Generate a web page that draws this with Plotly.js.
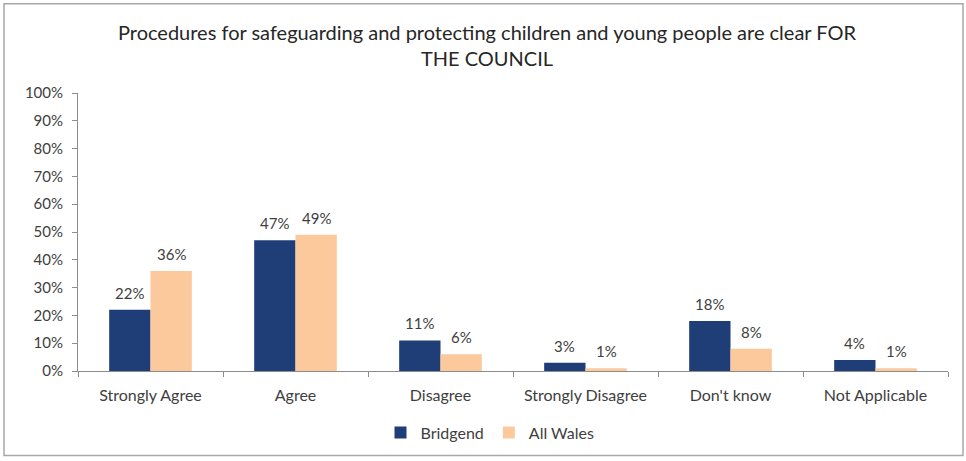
<!DOCTYPE html>
<html>
<head>
<meta charset="utf-8">
<script src="https://cdn.plot.ly/plotly-3.0.1.min.js"></script>
<style>html,body{margin:0;padding:0;background:#fff;} #chart{width:966px;height:461px;}</style>
</head>
<body>
<div id="chart"></div>
<script>
const categories = ["Strongly Agree", "Agree", "Disagree", "Strongly Disagree", "Don't know", "Not Applicable"];
const bridgend = [22, 47, 11, 3, 18, 4];
const allWales = [36, 49, 6, 1, 8, 1];
const yTickVals = [0, 10, 20, 30, 40, 50, 60, 70, 80, 90, 100];
const yTickText = yTickVals.map(v => v + "%");

const fontFam = "Lato, 'Open Sans', sans-serif";
const textCol = "#404040";

const bargap = 0.43;
const traces = [
  {type: "bar", name: "Bridgend", x: categories, y: bridgend,
   marker: {color: "#1F3D76"}, hoverinfo: "skip"},
  {type: "bar", name: "All Wales", x: categories, y: allWales,
   marker: {color: "#FBC99B"}, hoverinfo: "skip"}
];

const L = 78, R = 948, T = 93, B = 373;
const pw = R - L, ph = B - T;
function px(x){ return (x - L) / pw; }
function py(y){ return (B - y) / ph; }

// data labels centred over each bar of the group
const half = (1 - bargap) / 4;
const annotations = [];
[[bridgend, -half], [allWales, half]].forEach(([vals, off]) => {
  vals.forEach((v, i) => {
    annotations.push({x: i + off, y: v, xref: "x", yref: "y", text: v + "%", showarrow: false,
      yanchor: "bottom", yshift: 6, font: {family: fontFam, size: 15, color: textCol}});
  });
});

const layout = {
  width: 966, height: 461,
  margin: {l: L, r: 966 - R, t: T, b: 461 - B, pad: 0},
  paper_bgcolor: "#fff", plot_bgcolor: "#fff",
  font: {family: fontFam, color: textCol, size: 15},
  title: {text: "Procedures for safeguarding and protecting children and young people are clear FOR<br>THE COUNCIL",
          font: {family: fontFam, size: 20, color: "#262626"},
          x: 487 / 966, xanchor: "center", y: 1 - 40 / 461, yanchor: "middle"},
  barmode: "group", bargap: bargap, bargroupgap: 0,
  showlegend: true,
  legend: {orientation: "h", x: px(490), xanchor: "center", y: py(435), yanchor: "middle",
           font: {family: fontFam, size: 16, color: textCol}, itemwidth: 30, traceorder: "normal"},
  xaxis: {type: "category", showgrid: false, showline: true, linecolor: "#8c8c8c", linewidth: 1,
          ticks: "outside", tickson: "boundaries", ticklen: 5, tickcolor: "#8c8c8c",
          ticklabelstandoff: 10,
          tickfont: {family: fontFam, size: 16, color: textCol}, zeroline: false, fixedrange: true},
  yaxis: {range: [0, 100], tickvals: yTickVals, ticktext: yTickText, showgrid: false,
          showline: true, linecolor: "#8c8c8c", linewidth: 1, ticks: "outside", ticklen: 5,
          ticklabelstandoff: 6,
          tickcolor: "#8c8c8c", tickfont: {family: fontFam, size: 15, color: textCol},
          zeroline: false, fixedrange: true},
  annotations: annotations,
  shapes: [
    {type: "rect", xref: "paper", yref: "paper", x0: px(4), x1: px(963), y0: py(458), y1: py(3),
     line: {color: "#a8a8a8", width: 1.5}, fillcolor: "rgba(0,0,0,0)", layer: "below"}
  ]
};

Plotly.newPlot("chart", traces, layout, {displayModeBar: false, staticPlot: true});
</script>
</body>
</html>
